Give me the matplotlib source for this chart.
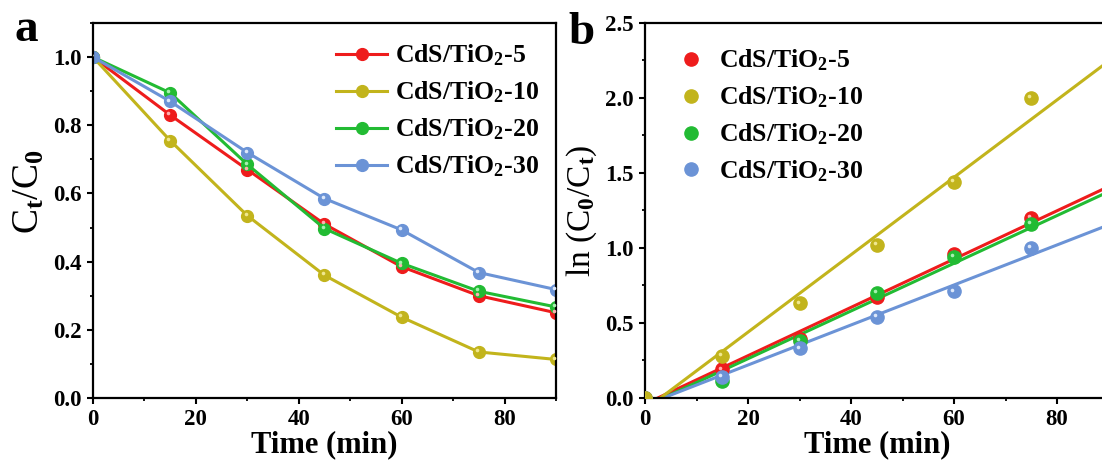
import matplotlib
matplotlib.use('Agg')
import matplotlib.pyplot as plt
from matplotlib.ticker import MultipleLocator, FormatStrFormatter
from matplotlib.transforms import offset_copy
import numpy as np

plt.rcParams['font.family'] = 'Liberation Serif'
plt.rcParams['font.weight'] = 'bold'
plt.rcParams['mathtext.fontset'] = 'custom'
plt.rcParams['mathtext.rm'] = 'Liberation Serif:bold'
plt.rcParams['mathtext.it'] = 'Liberation Serif:bold'
plt.rcParams['mathtext.bf'] = 'Liberation Serif:bold'

# data
time_a = [0, 15, 30, 45, 60, 75, 90]
ct_5 = [1.0, 0.83, 0.67, 0.51, 0.385, 0.30, 0.25]
ct_10 = [1.0, 0.755, 0.535, 0.36, 0.237, 0.135, 0.113]
ct_20 = [1.0, 0.895, 0.685, 0.497, 0.395, 0.313, 0.267]
ct_30 = [1.0, 0.87, 0.72, 0.585, 0.493, 0.368, 0.318]

time_b = [0, 15, 30, 45, 60, 75]
ln_5 = [0.0, 0.19, 0.39, 0.67, 0.96, 1.20]
ln_10 = [0.0, 0.28, 0.63, 1.02, 1.44, 2.0]
ln_20 = [0.0, 0.11, 0.38, 0.70, 0.94, 1.16]
ln_30 = [0.0, 0.14, 0.33, 0.54, 0.71, 1.0]

# linear fits: slope, intercept
fit_k = [0.0161, 0.0258, 0.0159, 0.01334]
fit_b = [-0.040, -0.077, -0.056, -0.047]

labels = ['CdS/TiO$_2$-5', 'CdS/TiO$_2$-10', 'CdS/TiO$_2$-20', 'CdS/TiO$_2$-30']
colors = ['#ee1c1c', '#c2b41c', '#22bb33', '#6b93d6']
light = ['#ffb0b0', '#f0e890', '#a8f0b0', '#dde8fa']

fig = plt.figure(figsize=(11.02, 4.68), dpi=100)
ax1 = fig.add_axes([0.0844, 0.1496, 0.4201, 0.8013])
ax2 = fig.add_axes([0.5853, 0.1496, 0.4206, 0.8013])


def style(ax):
    for s in ax.spines.values():
        s.set_linewidth(1.6)
    ax.tick_params(which='major', direction='out', length=4.5, width=1.5,
                   labelsize=16.5, top=False, right=False)
    ax.tick_params(which='minor', direction='out', length=2.5, width=1.3,
                   top=False, right=False)
    ax.xaxis.set_major_locator(MultipleLocator(20))
    ax.xaxis.set_minor_locator(MultipleLocator(10))
    ax.set_xlabel('Time (min)', fontsize=22, fontweight='bold', labelpad=0)


def shine(ax, x, y, c, z=3):
    # small highlight so markers look like the shaded balls
    tr = offset_copy(ax.transData, fig=fig, x=-1.3, y=1.3, units='points')
    ax.plot(x, y, ls='none', marker='o', ms=2.6, mfc=c, mec='none',
            transform=tr, zorder=z)


# panel a
for y, lab, c, lc in zip([ct_5, ct_10, ct_20, ct_30], labels, colors, light):
    ax1.plot(time_a, y, color=c, lw=2.2, marker='o', ms=8.5, mfc=c, mec=c,
             label=lab)
    shine(ax1, time_a, y, lc)
ax1.set_xlim(0, 90)
ax1.set_ylim(0, 1.1)
ax1.yaxis.set_major_locator(MultipleLocator(0.2))
ax1.yaxis.set_minor_locator(MultipleLocator(0.1))
ax1.yaxis.set_major_formatter(FormatStrFormatter('%.1f'))
style(ax1)
ax1.set_ylabel('C$_\\mathrm{t}$/C$_\\mathrm{0}$', fontsize=27)
ax1.yaxis.set_label_coords(-0.10, 0.55)
ax1.legend(loc='upper left', bbox_to_anchor=(0.525, 0.947), frameon=False,
           fontsize=18.5, handlelength=2.0, handletextpad=0.3,
           labelspacing=0.44, borderpad=0, borderaxespad=0)

# panel b
xfit = np.array([0, 90])
order = [0, 2, 3, 1]
series_b = [ln_5, ln_10, ln_20, ln_30]
for i in order:
    ax2.plot(xfit, fit_k[i] * xfit + fit_b[i], color=colors[i], lw=2.2)
for i in order:
    ax2.plot(time_b, series_b[i], ls='none', marker='o', ms=9.5,
             mfc=colors[i], mec=colors[i], label=labels[i], zorder=3)
    shine(ax2, time_b, series_b[i], light[i])
ax2.set_xlim(0, 90)
ax2.set_ylim(0, 2.5)
ax2.yaxis.set_major_locator(MultipleLocator(0.5))
ax2.yaxis.set_minor_locator(MultipleLocator(0.25))
ax2.yaxis.set_major_formatter(FormatStrFormatter('%.1f'))
style(ax2)
ax2.set_ylabel('ln (C$_\\mathrm{0}$/C$_\\mathrm{t}$)', fontsize=24)
ax2.yaxis.set_label_coords(-0.10, 0.5)
h, l = ax2.get_legend_handles_labels()
idx = [l.index(x) for x in labels]
ax2.legend([h[i] for i in idx], [l[i] for i in idx], loc='upper left',
           bbox_to_anchor=(0.063, 0.934), frameon=False, fontsize=18.5,
           handlelength=1.3, handletextpad=0.45, labelspacing=0.44,
           borderpad=0, borderaxespad=0)

fig.text(0.013, 0.912, 'a', fontsize=34, fontweight='bold')
fig.text(0.516, 0.905, 'b', fontsize=34, fontweight='bold')

plt.savefig('out.png', dpi=100)
